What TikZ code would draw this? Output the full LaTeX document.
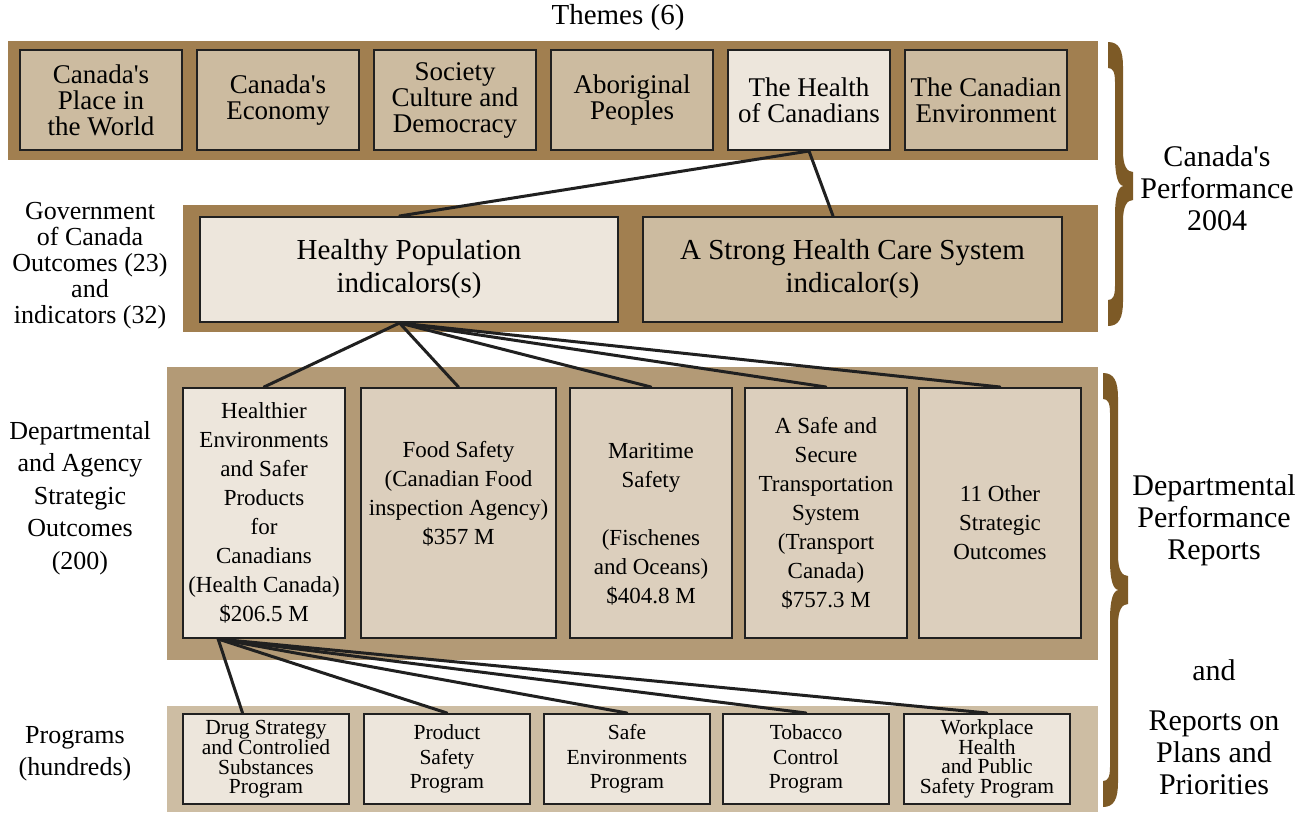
\documentclass[tikz,border=0pt]{standalone}
\usepackage{fontspec}
\setmainfont{Liberation Serif}
\usetikzlibrary{positioning}
\definecolor{bandDark}{HTML}{A17F50}
\definecolor{bandMid}{HTML}{B39A76}
\definecolor{bandLight}{HTML}{CDBDA3}
\definecolor{tanBox}{HTML}{CCBBA0}
\definecolor{paleBox}{HTML}{EDE6DC}
\definecolor{sandBox}{HTML}{DCCFBD}
\definecolor{braceBrown}{HTML}{7D5A26}
\definecolor{inkLine}{HTML}{202020}
\newcommand{\ap}{\textquotesingle}
\tikzstyle{box}=[draw=inkLine,line width=2pt,align=center,inner sep=0pt]
\tikzstyle{theme}=[box,fill=tanBox,minimum width=162pt,minimum height=100pt,font=\fontsize{27}{26}\selectfont]
\tikzstyle{outcome}=[box,fill=tanBox,minimum height=105pt,font=\fontsize{29}{33}\selectfont]
\tikzstyle{strat}=[box,fill=sandBox,minimum width=162pt,minimum height=250pt,font=\fontsize{23}{29}\selectfont]
\tikzstyle{prog}=[box,fill=paleBox,minimum width=166pt,minimum height=90pt,font=\fontsize{21.5}{24.5}\selectfont]
\tikzstyle{tight}=[font=\fontsize{21.5}{19.5}\selectfont]
\tikzstyle{label}=[align=center,inner sep=0pt]
\tikzstyle{link}=[draw=inkLine,line width=3pt,line cap=round]
\newcommand{\newBox}[4]{\node[#3](#1)[#4]{#2};}
\newcommand{\newLink}[2]{\path[link] (#1) -- (#2);}
% brace: left x, top y, tip y, bottom y
\newcommand{\newBrace}[4]{\fill[braceBrown] (#1,#2) .. controls (#1+11,#2) and (#1+15,#2+8) .. (#1+15,#2+25)
  -- (#1+15,#3-35) .. controls (#1+15,#3-20) and (#1+19,#3-14) .. (#1+25,#3-14)
  -- (#1+25,#3+14) .. controls (#1+19,#3+14) and (#1+15,#3+20) .. (#1+15,#3+35)
  -- (#1+15,#4-25) .. controls (#1+15,#4-8) and (#1+11,#4) .. (#1,#4)
  -- (#1,#4-26) .. controls (#1+5,#4-26) and (#1+7,#4-30) .. (#1+7,#4-40)
  -- (#1+7,#3+30) .. controls (#1+7,#3+10) and (#1+10,#3) .. (#1+16,#3)
  .. controls (#1+10,#3) and (#1+7,#3-10) .. (#1+7,#3-30)
  -- (#1+7,#2+40) .. controls (#1+7,#2+30) and (#1+5,#2+26) .. (#1,#2+26) -- cycle;}

\begin{document}
\begin{tikzpicture}[x=1pt,y=-1pt,node distance=13pt]
        \useasboundingbox (0,0) rectangle (1312,812);
        % bands
        \fill[bandDark] (8,41) rectangle (1098,160);
        \fill[bandDark] (183,205) rectangle (1098,332);
        \fill[bandMid] (167,367) rectangle (1098,660);
        \fill[bandLight] (167,706) rectangle (1098,812);
        % themes
        \node[label,font=\fontsize{29}{30}\selectfont](themes) at (618,18) {Themes (6)};
        \newBox{T1}{Canada\ap s\\Place in\\the World}{theme}{at={(101,100)}}
        \newBox{T2}{Canada\ap s\\Economy}{theme}{right=of T1}
        \newBox{T3}{Society\\Culture and\\Democracy}{theme}{right=of T2}
        \newBox{T4}{Aboriginal\\Peoples}{theme}{right=of T3}
        \newBox{T5}{The Health\\of Canadians}{theme,fill=paleBox}{right=of T4}
        \newBox{T6}{The Canadian\\Environment}{theme}{right=of T5}
        % government outcomes
        \newBox{HP}{Healthy Population\\indicalors(s)}{outcome,fill=paleBox,minimum width=418pt}{at={(409,269.5)}}
        \newBox{SHC}{A Strong Health Care System\\indicalor(s)}{outcome,minimum width=419pt}{right=23pt of HP}
        % strategic outcomes
        \newBox{S1}{Healthier\\Environments\\and Safer\\Products\\for\\Canadians\\(Health Canada)\\\$206.5 M}{strat,fill=paleBox}{at={(264,513)}}
        \newBox{S2}{Food Safety\\(Canadian Food\\inspection Agency)\\\$357 M\\[12pt]}{strat,minimum width=195pt}{right=14pt of S1}
        \newBox{S3}{\rule{0pt}{38pt}Maritime\\Safety\\\\(Fischenes\\and Oceans)\\\$404.8 M}{strat}{right=12pt of S2}
        \newBox{S4}{A Safe and\\Secure\\Transportation\\System\\(Transport\\Canada)\\\$757.3 M}{strat}{right=11pt of S3}
        \newBox{S5}{\rule{0pt}{36pt}11 Other\\Strategic\\Outcomes}{strat}{right=10pt of S4}
        % programs
        \newBox{P1}{Drug Strategy\\and Controlied\\Substances\\Program}{prog,tight}{at={(266,759)}}
        \newBox{P2}{Product\\Safety\\Program}{prog}{right=13pt of P1}
        \newBox{P3}{Safe\\Environments\\Program}{prog}{right=12pt of P2}
        \newBox{P4}{Tobacco\\Control\\Program}{prog}{right=11pt of P3}
        \newBox{P5}{Workplace\\Health\\and Public\\Safety Program}{prog,tight}{right=13pt of P4}
        % links
        \newLink{T5.south}{HP.100}
        \newLink{T5.south}{SHC.110}
        \foreach \s in {S1,S2,S3,S4,S5}
          {\newLink{HP.260}{\s.north}}
        \newLink{S1.250}{P1.117}
        \foreach \p in {P2,P3,P4,P5}
          {\newLink{S1.250}{\p.north}}
        % side labels
        \node[label,font=\fontsize{26}{26}\selectfont](govLab) at (90,266) {Government\\of Canada\\Outcomes (23)\\and\\indicators (32)};
        \node[label,font=\fontsize{26}{32.5}\selectfont](deptLab) at (80,498) {Departmental\\and Agency\\Strategic\\Outcomes\\(200)};
        \node[label,font=\fontsize{26}{32}\selectfont](progLab) at (75,754) {Programs\\(hundreds)};
        % braces
        \newBrace{1108}{42}{186}{326}
        \newBrace{1103}{373}{590}{807}
        \node[label,font=\fontsize{30}{32}\selectfont](cpLab) at (1217,188) {Canada\ap s\\Performance\\2004};
        \node[label,font=\fontsize{30}{32}\selectfont](dprLab) at (1214,520) {Departmental\\Performance\\Reports};
        \node[label,font=\fontsize{30}{32}\selectfont](andLab) at (1214,670) {and};
        \node[label,font=\fontsize{30}{32}\selectfont](rppLab) at (1214,753) {Reports on\\Plans and\\Priorities};
\end{tikzpicture}
\end{document}
